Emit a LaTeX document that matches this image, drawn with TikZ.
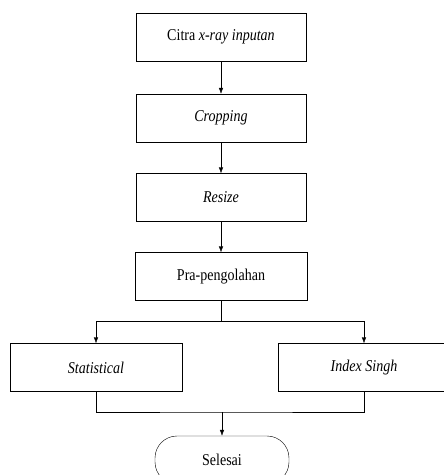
\documentclass[tikz,border=0pt]{standalone}
\usepackage{fontspec}
\setmainfont{Liberation Serif}[FakeStretch=0.85]
\usetikzlibrary{arrows.meta}
\tikzset{
  stepbox/.style={draw, black, inner sep=0pt, minimum width=172pt, minimum height=48pt, font=\fontsize{16.5}{19}\selectfont},
  endbox/.style={draw, black, rounded corners=22pt, inner sep=0pt, minimum width=134pt, minimum height=48pt, font=\fontsize{16.5}{19}\selectfont},
  flow/.style={black, -{Latex[length=6pt,width=4.5pt]}}
}
\begin{document}
\begin{tikzpicture}[x=1pt, y=-1pt]
        \useasboundingbox (0, 0) rectangle (444, 475);
        \node [stepbox, minimum width=170pt] at (221, 37) (citra) {Citra \textit{x-ray inputan}};
        \node [stepbox, minimum width=170pt] at (221, 118) (crop) {\textit{Cropping}};
        \node [stepbox, minimum width=170pt] at (221, 197.5) (resize) {\textit{Resize}};
        \node [stepbox] at (221, 276.5) (pra) {Pra-pengolahan};
        \node [stepbox] at (96, 367.5) (stat) {\textit{Statistical}};
        \node [stepbox] at (364, 367.5) (singh) {\textit{Index Singh}};
        \node [endbox] at (222, 460) (selesai) {Selesai};
        \coordinate (split) at (221, 321);
        \coordinate (merge) at (222, 412);

        \draw [flow] (citra) -- (crop);
        \draw [flow] (crop) -- (resize);
        \draw [flow] (resize) -- (pra);
        \draw [black] (pra) -- (split);
        \draw [flow] (split) -| (stat);
        \draw [flow] (split) -| (singh);
        \draw [black] (stat) |- (merge) -| (singh);
        \draw [flow] (merge) -- (selesai);
        \end{tikzpicture}
\end{document}
